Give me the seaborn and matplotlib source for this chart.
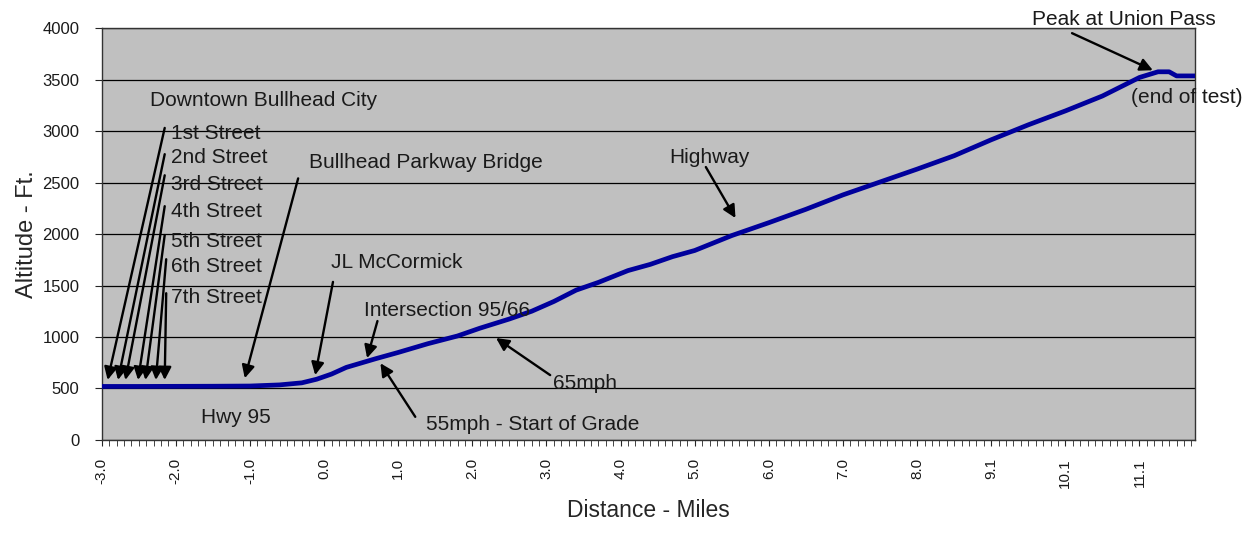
import matplotlib
matplotlib.use("Agg")
import matplotlib.pyplot as plt
from matplotlib.ticker import MultipleLocator
import seaborn as sns

# Elevation profile
distance = [-3.0, -2.5, -2.0, -1.5, -1.0, -0.6, -0.3, -0.1, 0.1, 0.3, 0.7, 1.0,
            1.4, 1.8, 2.1, 2.5, 2.8, 3.1, 3.4, 3.7, 4.1, 4.4, 4.7, 5.0, 5.5, 6.0,
            6.5, 7.0, 7.5, 8.0, 8.5, 9.0, 9.5, 10.0, 10.5, 11.0, 11.25, 11.4,
            11.5, 11.75]
altitude = [520, 520, 521, 522, 524, 535, 555, 590, 640, 705, 790, 850,
            935, 1010, 1085, 1175, 1250, 1345, 1455, 1530, 1645, 1705, 1780, 1840, 1985, 2110,
            2240, 2380, 2505, 2630, 2760, 2915, 3060, 3195, 3340, 3520, 3575, 3575,
            3535, 3535]

tick_pos = [-3, -2, -1, 0, 1, 2, 3, 4, 5, 6, 7, 8, 9, 10, 11]
tick_labels = ["-3.0", "-2.0", "-1.0", "0.0", "1.0", "2.0", "3.0", "4.0", "5.0",
               "6.0", "7.0", "8.0", "9.1", "10.1", "11.1"]

# street labels and their arrows (tail near the label, head on the road)
streets = ["1st Street", "2nd Street", "3rd Street", "4th Street",
           "5th Street", "6th Street", "7th Street"]
street_label_y = [2980, 2740, 2485, 2220, 1930, 1680, 1380]
street_tail_y = [3030, 2775, 2570, 2270, 1990, 1755, 1425]
street_head_x = [-2.92, -2.78, -2.68, -2.51, -2.41, -2.27, -2.15]

# other callouts: text, text xy, arrow tail, arrow head
callouts = [
    ("Bullhead Parkway Bridge", (-0.20, 2690), (-0.35, 2540), (-1.07, 600)),
    ("JL McCormick", (0.09, 1720), (0.12, 1535), (-0.12, 630)),
    ("Intersection 95/66", (0.54, 1260), (0.72, 1155), (0.58, 795)),
    ("65mph", (3.09, 553), (3.05, 630), (2.32, 990)),
    ("55mph - Start of Grade", (1.38, 146), (1.23, 225), (0.76, 745)),
    ("Highway", (4.66, 2740), (5.15, 2650), (5.55, 2155)),
    ("Peak at Union Pass", (9.55, 4078), (10.09, 3950), (11.18, 3590)),
]
plain_text = [
    ("Downtown Bullhead City", (-2.35, 3300)),
    ("Hwy 95", (-1.66, 214)),
    ("(end of test)", (10.89, 3330)),
]

sns.set_style("white")
plt.rcParams["font.family"] = ["Liberation Sans", "DejaVu Sans"]

fig = plt.figure(figsize=(12.51, 5.43), dpi=100)
ax = fig.add_axes([0.0813, 0.1897, 0.874, 0.7587])
ax.set_facecolor("#c0c0c0")

sns.lineplot(x=distance, y=altitude, ax=ax, color="#00009c", lw=3.4, zorder=3)

ax.set_xlim(-3.0, 11.75)
ax.set_ylim(0, 4000)
ax.set_yticks(range(0, 4001, 500))
ax.yaxis.grid(True, color="black", lw=0.9)
ax.set_axisbelow(True)
ax.set_xticks(tick_pos)
ax.set_xticklabels(tick_labels, rotation=90, fontsize=11, color="#1a1a1a")
ax.xaxis.set_minor_locator(MultipleLocator(0.1))
ax.tick_params(axis="y", labelsize=12, labelcolor="#1a1a1a", length=5,
               direction="out", left=True, pad=11)
ax.tick_params(axis="x", which="both", length=4, direction="out", bottom=True, pad=9)
for s in ax.spines.values():
    s.set_color("#333333")
    s.set_linewidth(1.0)

ax.set_ylabel("Altitude - Ft.", fontsize=17, labelpad=3)
ax.set_xlabel("Distance - Miles", fontsize=16.5, labelpad=8)

arrow = dict(arrowstyle="-|>", color="black", lw=1.7, mutation_scale=19,
             shrinkA=0, shrinkB=0)
txt = dict(fontsize=15, color="#1a1a1a", va="center", ha="left")

for name, ly, ty, hx in zip(streets, street_label_y, street_tail_y, street_head_x):
    ax.text(-2.07, ly, name, **txt)
    ax.annotate("", xy=(hx, 583), xytext=(-2.15 + 0.02 * (ty < 1800), ty),
                arrowprops=arrow)

for name, pos, tail, head in callouts:
    ax.text(pos[0], pos[1], name, clip_on=False, **txt)
    ax.annotate("", xy=head, xytext=tail, arrowprops=arrow, annotation_clip=False)

for name, pos in plain_text:
    ax.text(pos[0], pos[1], name, clip_on=False, **txt)

fig.savefig("out.png", dpi=100)
